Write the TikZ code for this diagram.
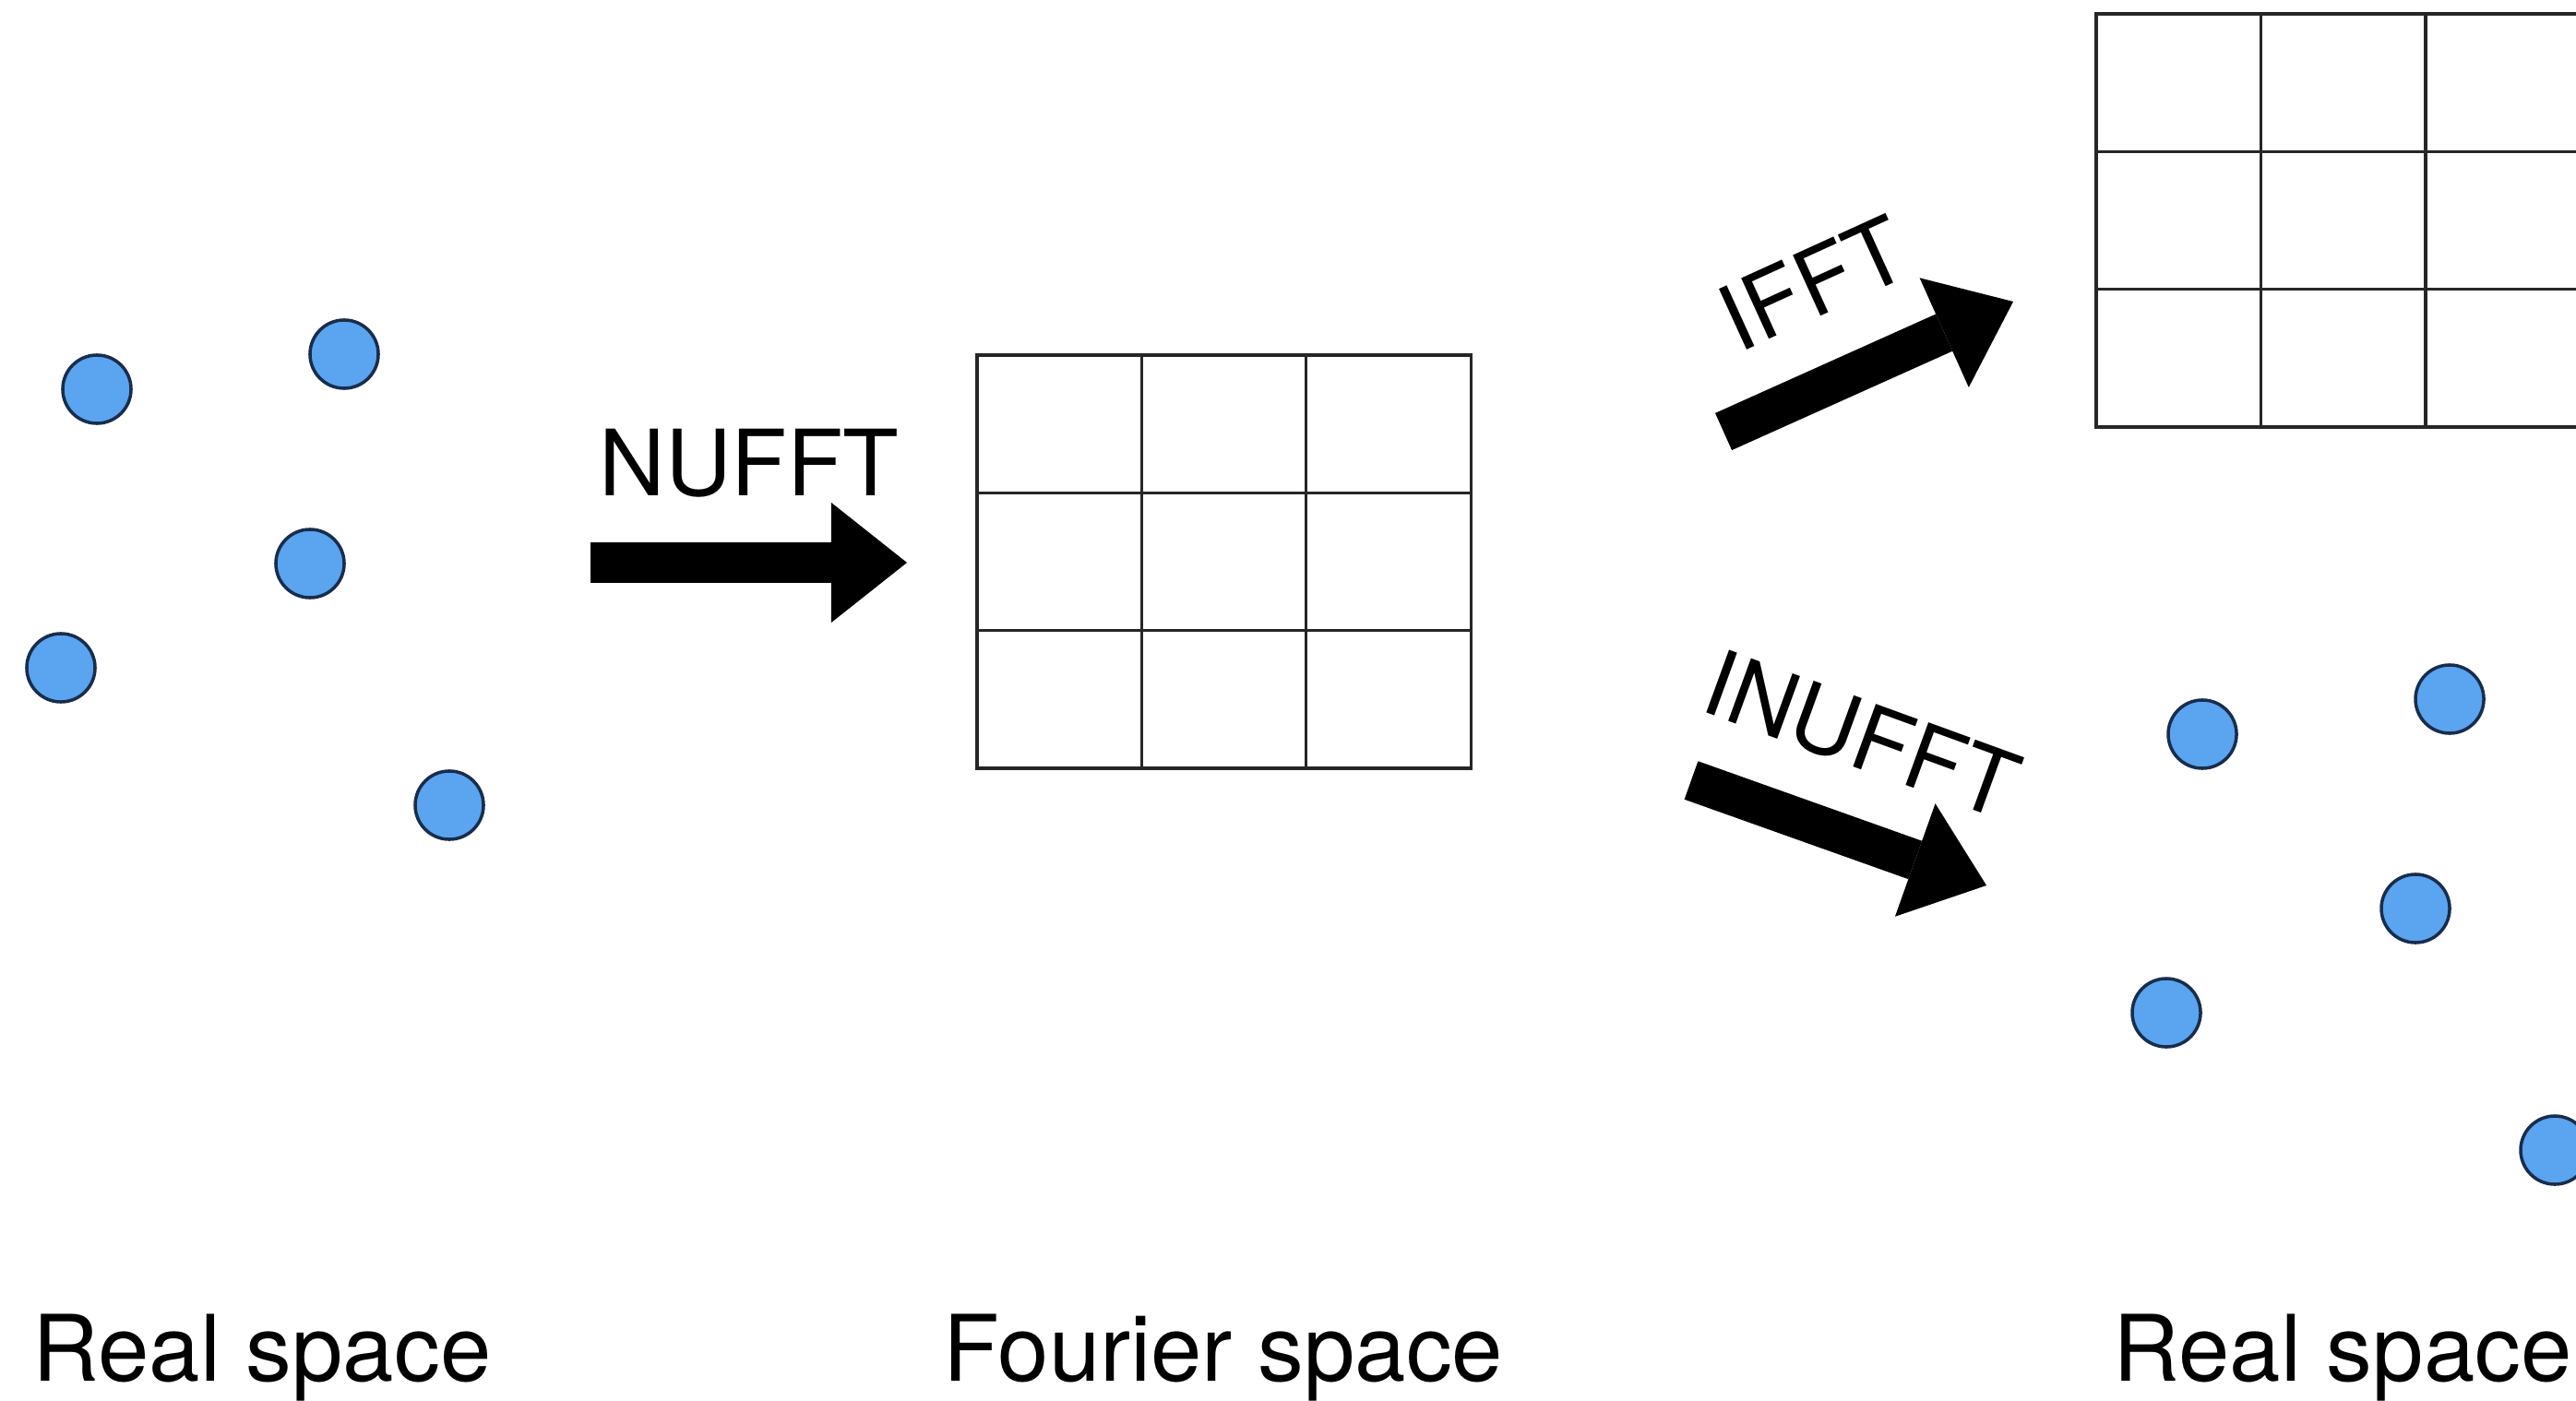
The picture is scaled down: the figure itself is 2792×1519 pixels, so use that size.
\documentclass[tikz,border=0pt]{standalone}
\usepackage{fontspec}
\setmainfont{TeX Gyre Heros}
\usetikzlibrary{arrows.meta}
\definecolor{dotfill}{RGB}{90,164,240}
\definecolor{dotedge}{RGB}{25,45,75}
\begin{document}
\begin{tikzpicture}[x=0.01cm, y=-0.01cm,
  sample/.style={circle, draw=dotedge, fill=dotfill, line width=1pt,
                 minimum size=0.74cm, inner sep=0pt},
  gridline/.style={draw=black!85, line width=0.95pt},
  blockarrow/.style={line width=0.44cm,
                     -{Triangle[length=0.82cm, width=1.30cm, line width=0pt]}},
  oplabel/.style={font=\fontsize{28.2}{34}\selectfont, inner sep=0pt},
  spacelabel/.style={font=\fontsize{28.3}{34}\selectfont, inner sep=0pt, anchor=base}]

  \path[use as bounding box] (0,0) rectangle (2792,1519);
  \clip (0,0) rectangle (2792,1519);

  % scattered samples in real space (input)
  \node[sample] (p1) at (105,422) {};
  \node[sample] (p2) at (373,384) {};
  \node[sample] (p3) at (336,611) {};
  \node[sample] (p4) at (66,724) {};
  \node[sample] (p5) at (487,873) {};

  % the same samples after the inverse transform
  \begin{scope}[shift={(2282,374)}]
    \node[sample] (q1) at (105,422) {};
    \node[sample] (q2) at (373,384) {};
    \node[sample] (q3) at (336,611) {};
    \node[sample] (q4) at (66,724) {};
    \node[sample] (q5) at (487,873) {};
  \end{scope}

  % uniform Fourier grid
  \draw[gridline] (1059,385) rectangle ++(535.2,448);
  \foreach \i in {1,2}
    \draw[gridline] (1059+178.4*\i,385) -- ++(0,448);
  \foreach \j in {1,2}
    \draw[gridline] (1059,385+149.3*\j) -- ++(535.2,0);

  % uniform real-space grid (runs off the right edge)
  \draw[gridline] (2272,15) rectangle ++(535.2,448);
  \foreach \i in {1,2}
    \draw[gridline] (2272+178.4*\i,15) -- ++(0,448);
  \foreach \j in {1,2}
    \draw[gridline] (2272,15+149.3*\j) -- ++(535.2,0);

  % transform arrows
  \coordinate (nufft-tail) at (640,610);
  \coordinate (nufft-tip) at (983,610);
  \draw[blockarrow] (nufft-tail) -- (nufft-tip);

  \coordinate (ifft-tail) at (1868,468);
  \coordinate (ifft-tip) at (2182,327);
  \draw[blockarrow] (ifft-tail) -- (ifft-tip);

  \coordinate (inufft-tail) at (1833,846);
  \coordinate (inufft-tip) at (2153,960);
  \draw[blockarrow] (inufft-tail) -- (inufft-tip);

  % arrow labels
  \node[oplabel] (nufft) at (812,502) {NUFFT};
  \node[oplabel, rotate=24.5] (ifft) at (1965,307) {IFFT};
  \node[oplabel, rotate=-20] (inufft) at (2018,797) {INUFFT};

  % space captions
  \node[spacelabel] (real-in) at (284,1497) {Real space};
  \node[spacelabel] (fourier) at (1326,1497) {Fourier space};
  \node[spacelabel] (real-out) at (2539,1497) {Real space};
\end{tikzpicture}
\end{document}
